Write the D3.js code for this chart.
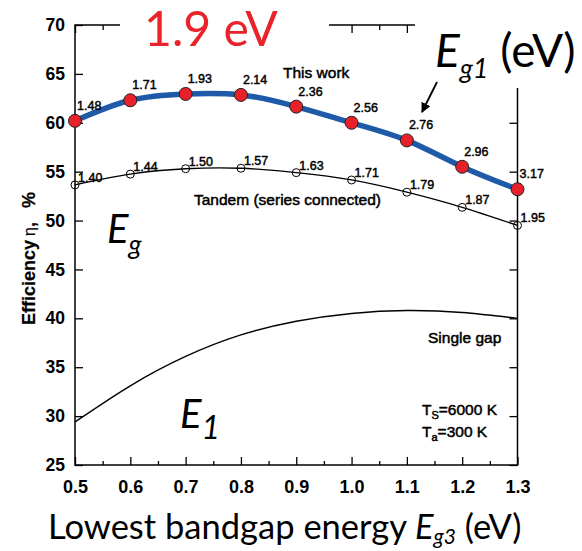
<!DOCTYPE html>
<html>
<head>
<meta charset="utf-8">
<script src="https://cdn.jsdelivr.net/npm/d3@7"></script>
<style>
  html, body { margin: 0; padding: 0; background: #fff; }
  svg { display: block; }
  .sc { font-family: "Liberation Sans", Arial, sans-serif; }
  .cal { font-family: Lato, "Open Sans", sans-serif; }
</style>
</head>
<body>
<svg id="chart" width="582" height="551"></svg>
<script>
// ---------------- data ----------------
const eg3 = [0.5, 0.6, 0.7, 0.8, 0.9, 1.0, 1.1, 1.2, 1.3];
const thisWork = [60.2, 62.3, 62.95, 62.85, 61.65, 60.0, 58.2, 55.5, 53.2];
const thisWorkEg1 = ["1.48", "1.71", "1.93", "2.14", "2.36", "2.56", "2.76", "2.96", "3.17"];
const tandem = [53.65, 54.75, 55.3, 55.35, 54.9, 54.15, 52.9, 51.35, 49.5];
const tandemEg = ["1.40", "1.44", "1.50", "1.57", "1.63", "1.71", "1.79", "1.87", "1.95"];
const singleGap = [29.4, 33.1, 36.1, 38.3, 39.7, 40.5, 40.8, 40.6, 40.0];
const xMajorTicks = [0.5, 0.6, 0.7, 0.8, 0.9, 1.0, 1.1, 1.2, 1.3];
const xMinorTicks = [0.55, 0.65, 0.75, 0.85, 0.95, 1.05, 1.15, 1.25];
const yTicks = [25, 30, 35, 40, 45, 50, 55, 60, 65, 70];

// ---------------- layout ----------------
const svg = d3.select("#chart");
const L = 75, R = 517.5, T = 25, B = 465;
const x = d3.scaleLinear().domain([0.5, 1.3]).range([L, R]);
const y = d3.scaleLinear().domain([25, 70]).range([B, T]);

function fitWidth(sel, w) {
  const n = sel.node();
  const fs = parseFloat(sel.attr("font-size"));
  const bw = n.getBBox().width;
  sel.attr("font-size", fs * w / bw);
}

// ---- axes (ticks inward) ----
const gB = svg.append("g").attr("transform", `translate(0,${B})`)
  .call(d3.axisBottom(x).tickValues(xMajorTicks).tickSize(-8).tickPadding(15).tickFormat(d3.format(".1f")));
svg.append("g").attr("transform", `translate(0,${B})`)
  .call(d3.axisBottom(x).tickValues(xMinorTicks).tickSize(-4).tickFormat(""));
svg.append("g").attr("transform", `translate(0,${T})`)
  .call(d3.axisTop(x).tickValues(xMajorTicks).tickSize(-8).tickFormat(""));
svg.append("g").attr("transform", `translate(0,${T})`)
  .call(d3.axisTop(x).tickValues(xMinorTicks).tickSize(-5).tickFormat(""));
const gL = svg.append("g").attr("transform", `translate(${L},0)`)
  .call(d3.axisLeft(y).tickValues(yTicks).tickSize(-8).tickPadding(10));
svg.append("g").attr("transform", `translate(${R},0)`)
  .call(d3.axisRight(y).tickValues(yTicks).tickSize(-8).tickFormat(""));

svg.selectAll(".domain").remove();
svg.selectAll(".tick line").attr("stroke", "#000").attr("stroke-width", 1.3);
gB.selectAll("text").attr("class", "sc").attr("font-size", 18).attr("font-weight", "bold").attr("fill", "#000");
gL.selectAll("text").attr("class", "sc").attr("font-size", 17.5).attr("font-weight", "bold").attr("fill", "#000");

// frame
svg.append("rect").attr("x", L).attr("y", T).attr("width", R - L).attr("height", B - T)
  .attr("fill", "none").attr("stroke", "#000").attr("stroke-width", 1.5);

// ---- curves ----
const line = (vals) => d3.line().x((d, i) => x(eg3[i])).y(d => y(d)).curve(d3.curveNatural)(vals);

svg.append("path").attr("d", line(singleGap)).attr("fill", "none").attr("stroke", "#000").attr("stroke-width", 1.4);
svg.append("path").attr("d", line(tandem)).attr("fill", "none").attr("stroke", "#000").attr("stroke-width", 1.3);
svg.append("path").attr("d", line(thisWork)).attr("fill", "none").attr("stroke", "#1f5aa8").attr("stroke-width", 5.5);

svg.append("g").selectAll("circle").data(tandem).join("circle")
  .attr("cx", (d, i) => x(eg3[i])).attr("cy", d => y(d)).attr("r", 4)
  .attr("fill", "none").attr("stroke", "#000").attr("stroke-width", 1);
svg.append("g").selectAll("circle").data(thisWork).join("circle")
  .attr("cx", (d, i) => x(eg3[i])).attr("cy", d => y(d)).attr("r", 6.5)
  .attr("fill", "#e8202a").attr("stroke", "#222").attr("stroke-width", 1);

// value labels
const lblStyle = s => s.attr("class", "sc").attr("font-size", 12.5).attr("fill", "#000")
  .attr("stroke", "#000").attr("stroke-width", 0.45);
svg.append("g").selectAll("text").data(thisWork).join("text")
  .attr("x", (d, i) => x(eg3[i]) + 2).attr("y", d => y(d) - 11)
  .text((d, i) => thisWorkEg1[i]).call(lblStyle);
svg.append("g").selectAll("text").data(tandem).join("text")
  .attr("x", (d, i) => x(eg3[i]) + 3).attr("y", d => y(d) - 3)
  .text((d, i) => tandemEg[i]).call(lblStyle);

// curve labels
const capStyle = s => s.attr("class", "sc").attr("font-size", 15.5).attr("fill", "#000")
  .attr("stroke", "#000").attr("stroke-width", 0.5);
svg.append("text").attr("x", 283).attr("y", 78).text("This work").call(capStyle);
svg.append("text").attr("x", 194).attr("y", 205).text("Tandem (series connected)").call(capStyle);
svg.append("text").attr("x", 428).attr("y", 343).text("Single gap").call(capStyle);

const ts = svg.append("text").attr("x", 422).attr("y", 415).call(capStyle);
ts.append("tspan").text("T");
ts.append("tspan").attr("font-size", 11).attr("dy", 4).text("S");
ts.append("tspan").attr("dy", -4).text("=6000 K");
const ta = svg.append("text").attr("x", 422).attr("y", 437).call(capStyle);
ta.append("tspan").text("T");
ta.append("tspan").attr("font-size", 11).attr("dy", 4).text("a");
ta.append("tspan").attr("dy", -4).text("=300 K");

// y-axis title
const yt = svg.append("text").attr("class", "sc").attr("font-size", 18).attr("font-weight", "bold")
  .attr("transform", "translate(35,325) rotate(-90)").attr("stroke", "#000").attr("stroke-width", 0.2);
yt.append("tspan").text("Efficiency");
yt.append("tspan").attr("dx", 4).attr("font-size", 16).attr("font-weight", "normal").text("η");
yt.append("tspan").text(",");
yt.append("tspan").attr("dx", 14).text("%");

// ---- overlay annotations (slide text boxes) ----
svg.append("rect").attr("x", 120).attr("y", 0).attr("width", 209).attr("height", 55).attr("fill", "#fff");
svg.append("rect").attr("x", 415).attr("y", 0).attr("width", 167).attr("height", 88).attr("fill", "#fff");

const t19 = svg.append("text").attr("class", "cal").attr("x", 144).attr("y", 46)
  .attr("font-size", 47).attr("fill", "#e8232a").text("1.9 eV");
fitWidth(t19, 134);

const eg1 = svg.append("text").attr("class", "cal").attr("x", 435).attr("y", 67)
  .attr("font-size", 40).attr("fill", "#000");
eg1.append("tspan").attr("font-style", "italic").text("E");
eg1.append("tspan").attr("font-style", "italic").attr("font-size", 27).attr("dy", 11).text("g1");
eg1.append("tspan").attr("dy", -11).text(" (eV)");
fitWidth(eg1, 145);

// arrow
svg.append("defs").append("marker").attr("id", "ah").attr("viewBox", "0 0 10 10")
  .attr("refX", 9).attr("refY", 5).attr("markerWidth", 10).attr("markerHeight", 10)
  .attr("markerUnits", "userSpaceOnUse").attr("orient", "auto")
  .append("path").attr("d", "M0,0 L10,5 L0,10 Z").attr("fill", "#000");
svg.append("line").attr("x1", 437).attr("y1", 82).attr("x2", 422).attr("y2", 112)
  .attr("stroke", "#000").attr("stroke-width", 1.8).attr("marker-end", "url(#ah)");

const egL = svg.append("text").attr("class", "cal").attr("x", 107).attr("y", 243)
  .attr("font-size", 40).attr("font-style", "italic").attr("fill", "#000");
egL.append("tspan").text("E");
egL.append("tspan").attr("font-size", 27).attr("dy", 11).text("g");

const e1L = svg.append("text").attr("class", "cal").attr("x", 180).attr("y", 428)
  .attr("font-size", 40).attr("font-style", "italic").attr("fill", "#000");
e1L.append("tspan").text("E");
e1L.append("tspan").attr("font-size", 32).attr("dy", 11).text("1");

// x-axis title
const xt = svg.append("text").attr("class", "cal").attr("x", 48).attr("y", 539)
  .attr("font-size", 30).attr("fill", "#000");
xt.append("tspan").text("Lowest bandgap energy ");
xt.append("tspan").attr("font-style", "italic").text("E");
xt.append("tspan").attr("font-style", "italic").attr("font-size", 21).attr("dy", 5).text("g3");
xt.append("tspan").attr("dy", -5).text(" (eV)");
fitWidth(xt, 477);
</script>
</body>
</html>
